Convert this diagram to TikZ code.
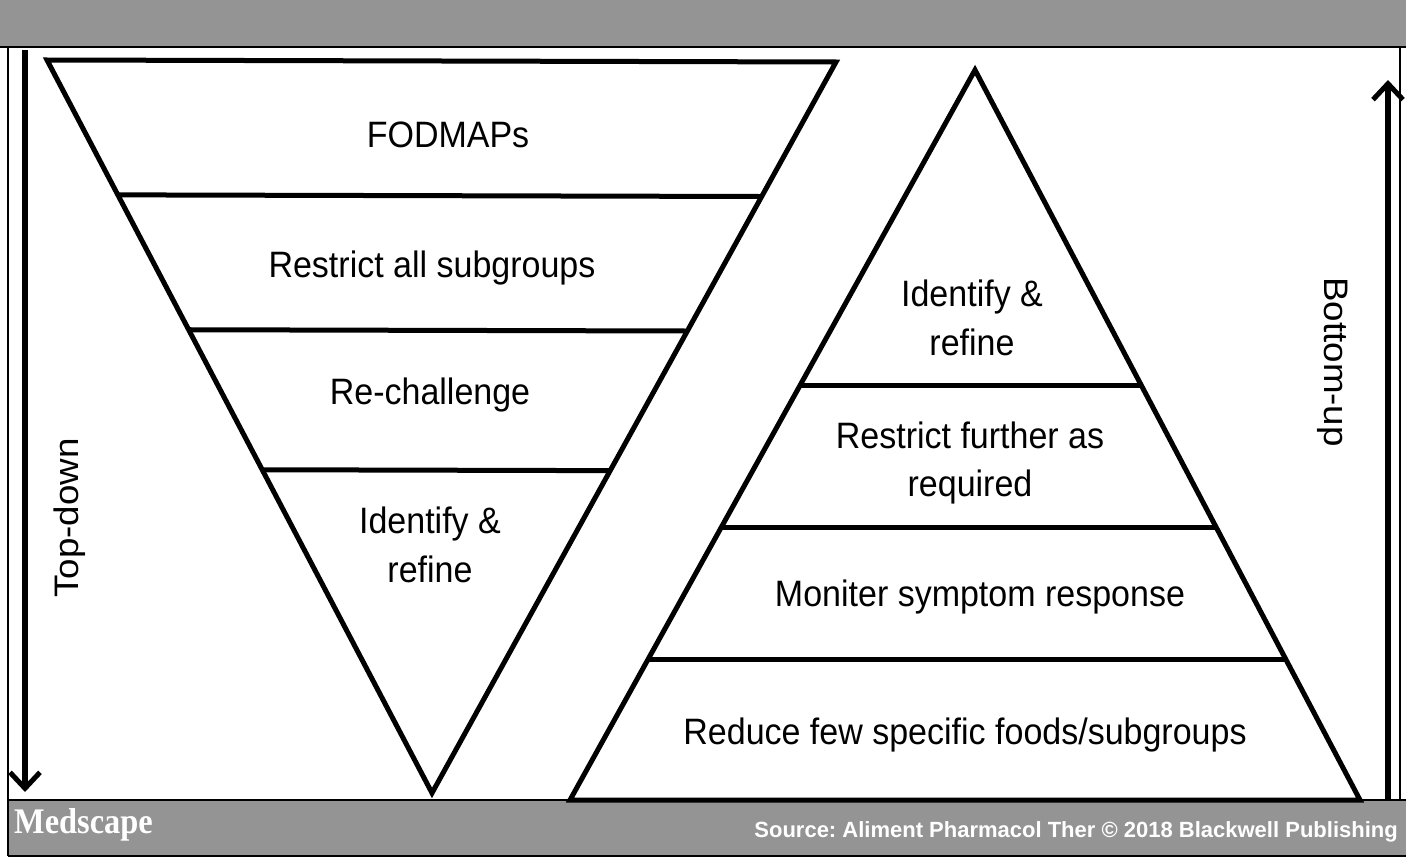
\documentclass[tikz,border=0pt]{standalone}
\usepackage{fontspec}
\setmainfont{Liberation Sans}
\newfontfamily\medfont{Liberation Serif}
\usetikzlibrary{arrows.meta,calc}
\frenchspacing
\begin{document}
\begin{tikzpicture}[x=1pt,y=-1pt,
  lbl/.style={font=\fontsize{34}{45}\selectfont, align=center, inner sep=0pt, yscale=1.08},
  tri/.style={line width=5pt, line join=miter},
  divider/.style={line width=5pt},
  barfill/.style={fill=black!42},
  frameline/.style={line width=1.6pt},
  dirarrow/.style={line width=6pt, -{Straight Barb[length=16pt,width=30pt,line width=5pt]}}]
\useasboundingbox (0,0) rectangle (1406,867);
\fill[white] (0,0) rectangle (1406,867);
% grey bars
\fill[barfill] (0,0) rectangle (1406,47);
\draw[line width=2.5pt] (0,47) -- (1406,47);
\fill[barfill] (8,800) rectangle (1406,856);
\draw[line width=2.5pt] (8,800) -- (1406,800);
\draw[line width=2pt] (8,856) -- (1406,856);
% frame lines
\draw[frameline] (8,47) -- (8,856);
\draw[frameline] (1400,47) -- (1400,800);
% inverted triangle
\coordinate (A1) at (47,60);
\coordinate (A2) at (836,62);
\coordinate (A3) at (432,793);
\draw[tri] (A1) -- (A2) -- (A3) -- cycle;
\draw[divider] ($(A1)!0.184!(A3)$) -- ($(A2)!0.184!(A3)$);
\draw[divider] ($(A1)!0.368!(A3)$) -- ($(A2)!0.368!(A3)$);
\draw[divider] ($(A1)!0.559!(A3)$) -- ($(A2)!0.559!(A3)$);
% upright triangle
\coordinate (B1) at (975,70);
\coordinate (B2) at (570,800);
\coordinate (B3) at (1360,800);
\draw[tri] (B1) -- (B2) -- (B3) -- cycle;
\draw[divider] ($(B1)!0.432!(B2)$) -- ($(B1)!0.432!(B3)$);
\draw[divider] ($(B1)!0.627!(B2)$) -- ($(B1)!0.627!(B3)$);
\draw[divider] ($(B1)!0.808!(B2)$) -- ($(B1)!0.808!(B3)$);
% labels left
\node[lbl] (l1) at (448,135) {FODMAPs};
\node[lbl] (l2) at (432,268) {Restrict all subgroups};
\node[lbl] (l3) at (430,395) {Re-challenge};
\node[lbl] (l4) at (430,545) {Identify \&\\refine};
% labels right
\node[lbl] (r1) at (972,318) {Identify \&\\refine};
\node[lbl] (r2) at (970,463) {Restrict further as\\required};
\node[lbl] (r3) at (980,597) {Moniter symptom response};
\node[lbl] (r4) at (965,735) {Reduce few specific foods/subgroups};
% direction arrows
\coordinate (tdS) at (25,50);
\coordinate (tdE) at (25,792);
\draw[dirarrow] (tdS) -- (tdE);
\coordinate (buS) at (1388,800);
\coordinate (buE) at (1388,80);
\draw[dirarrow] (buS) -- (buE);
\node[lbl, rotate=90] (td) at (70,518) {Top-down};
\node[lbl, rotate=-90] (bu) at (1333,362) {Bottom-up};
% footer texts
\node[text=white, font=\medfont\bfseries\fontsize{36}{38}\selectfont, anchor=west, inner sep=0pt, xscale=0.9] (med) at (14,825) {Medscape};
\node[text=white, font=\bfseries\fontsize{22}{26}\selectfont, anchor=east, inner sep=0pt] (src) at (1398,832) {Source: Aliment Pharmacol Ther © 2018 Blackwell Publishing};
\end{tikzpicture}
\end{document}
